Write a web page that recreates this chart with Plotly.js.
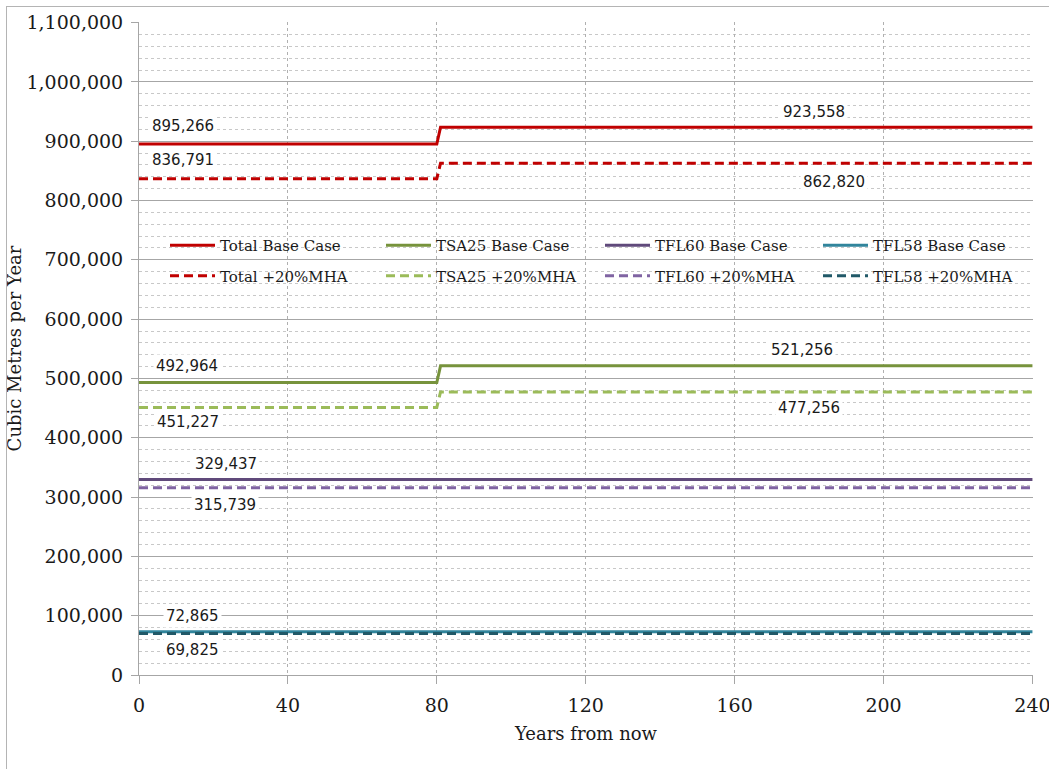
<!DOCTYPE html>
<html>
<head>
<meta charset="utf-8">
<script src="https://cdn.plot.ly/plotly-3.0.1.min.js"></script>
<style>
  html, body { margin: 0; padding: 0; background: #fff; }
  #wrap { position: relative; width: 1049px; height: 769px; }
  #chart { width: 1049px; height: 769px; }
  #frame { position: absolute; left: 6px; top: 6px; width: 1043px; height: 763px;
           border-top: 1px solid #b4b4b4; border-left: 1px solid #b4b4b4; pointer-events: none; }
</style>
</head>
<body>
<div id="wrap"><div id="chart"></div><div id="frame"></div></div>
<script>
// ---- data ----
const years = [0, 80, 81, 240];
const totalBase   = [895266, 895266, 923558, 923558];
const totalMHA    = [836791, 836791, 862820, 862820];
const tsa25Base   = [492964, 492964, 521256, 521256];
const tsa25MHA    = [451227, 451227, 477256, 477256];
const tfl60Base   = [329437, 329437, 329437, 329437];
const tfl60MHA    = [315739, 315739, 315739, 315739];
const tfl58Base   = [72865, 72865, 72865, 72865];
const tfl58MHA    = [69825, 69825, 69825, 69825];

const seriesNames = ['Total Base Case', 'Total +20%MHA', 'TSA25 Base Case', 'TSA25 +20%MHA',
                     'TFL60 Base Case', 'TFL60 +20%MHA', 'TFL58 Base Case', 'TFL58 +20%MHA'];

// label values shown on chart
const labelValues = [895266, 836791, 923558, 862820, 492964, 451227, 521256, 477256, 329437, 315739, 72865, 69825];
const labelYears  = [11.8, 11.8, 181.2, 186.6, 12.9, 13.2, 178, 180, 23.4, 23.1, 14.5, 14.5];
const labelYPos   = [926500, 867500, 950000, 830500, 520500, 426200, 547500, 449800, 355400, 286400, 99400, 42100];

const xTitle = 'Years from now';
const yTitle = 'Cubic Metres per Year';

// ---- styles ----
const styles = [
  {color: '#C00000', dash: 'solid',   legend: 'legend'},
  {color: '#C00000', dash: '9px,5px', legend: 'legend'},
  {color: '#77933C', dash: 'solid',   legend: 'legend2'},
  {color: '#9BBB59', dash: '9px,5px', legend: 'legend2'},
  {color: '#604A7B', dash: 'solid',   legend: 'legend3'},
  {color: '#8064A2', dash: '9px,5px', legend: 'legend3'},
  {color: '#31859C', dash: 'solid',   legend: 'legend4'},
  {color: '#215968', dash: '9px,5px', legend: 'legend4'}
];
const seriesData = [totalBase, totalMHA, tsa25Base, tsa25MHA, tfl60Base, tfl60MHA, tfl58Base, tfl58MHA];

const traces = seriesData.map((ys, i) => ({
  type: 'scatter', mode: 'lines', x: years, y: ys, name: seriesNames[i],
  legendgroup: seriesNames[i],
  line: {color: styles[i].color, width: 3, dash: styles[i].dash},
  legend: styles[i].legend, hoverinfo: 'skip'
}));

const fmt = v => v.toLocaleString('en-US');
const annotations = labelValues.map((v, i) => ({
  x: labelYears[i], y: labelYPos[i], xref: 'x', yref: 'y',
  text: fmt(v), showarrow: false, bgcolor: '#ffffff', borderpad: 2,
  font: {family: 'DejaVu Sans', size: 15, color: '#1a1a1a'}
}));

const serif = 'DejaVu Serif';
const legendTextX = [220, 436, 655, 873];
const legendItemW = 45;
const mkLegend = px => ({
  orientation: 'v', xanchor: 'left', yanchor: 'top',
  x: (px - (legendItemW + 10) - 139) / 894, y: (675 - 229) / 653,
  bgcolor: 'rgba(0,0,0,0)', borderwidth: 0, itemwidth: legendItemW,
  tracegroupgap: 8,
  font: {family: serif, size: 15, color: '#1a1a1a'}
});

const layout = {
  width: 1049, height: 769,
  margin: {l: 139, r: 16, t: 22, b: 94},
  paper_bgcolor: '#ffffff', plot_bgcolor: '#ffffff',
  showlegend: true,
  xaxis: {
    range: [0, 240.15], dtick: 40, tick0: 0,
    showgrid: true, gridcolor: '#b0b0b0', griddash: 'dot', gridwidth: 1,
    zeroline: false, showline: true, linecolor: '#a6a6a6', linewidth: 1,
    ticks: 'outside', ticklen: 8, tickcolor: '#a6a6a6',
    ticklabeloverflow: 'allow', ticklabelstandoff: 5,
    tickfont: {family: serif, size: 19, color: '#1a1a1a'},
    title: {text: xTitle, font: {family: serif, size: 18, color: '#1a1a1a'}, standoff: 12}
  },
  yaxis: {
    range: [0, 1101000], dtick: 100000, tick0: 0, tickformat: ',d',
    showgrid: true, gridcolor: '#a6a6a6', gridwidth: 1,
    minor: {dtick: 20000, showgrid: true, gridcolor: '#c8c8c8', griddash: 'dot', gridwidth: 1, ticks: ''},
    zeroline: false, showline: true, linecolor: '#a6a6a6', linewidth: 1,
    ticks: 'outside', ticklen: 7, tickcolor: '#a6a6a6', ticklabelstandoff: 4,
    tickfont: {family: serif, size: 19, color: '#1a1a1a'},
    title: {text: yTitle, font: {family: serif, size: 18, color: '#1a1a1a'}, standoff: 0}
  },
  legend:  mkLegend(legendTextX[0]),
  legend2: mkLegend(legendTextX[1]),
  legend3: mkLegend(legendTextX[2]),
  legend4: mkLegend(legendTextX[3]),
  shapes: [{
    type: 'rect', layer: 'between', xref: 'paper', yref: 'paper',
    x0: (160 - 139) / 894, x1: (1030 - 139) / 894,
    y0: (675 - 292) / 653, y1: (675 - 229) / 653,
    fillcolor: '#ffffff', line: {width: 0}
  }],
  annotations: annotations
};

Plotly.newPlot('chart', traces, layout, {displayModeBar: false, staticPlot: true});
</script>
</body>
</html>
